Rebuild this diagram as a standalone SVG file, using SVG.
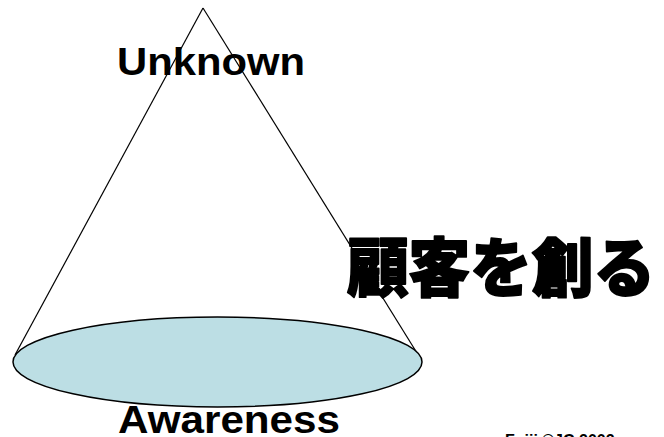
<svg xmlns="http://www.w3.org/2000/svg" width="664" height="437" viewBox="0 0 664 437">
<style>
.lbl{font-family:"Liberation Sans",Arial,sans-serif;font-weight:bold;fill:#000}
.jp{font-family:"Noto Sans CJK JP","Noto Sans CJK SC",sans-serif;font-weight:900;fill:#000;stroke:#000;stroke-width:1.8;stroke-linejoin:round}
.edge{stroke:#000;stroke-width:1.2;fill:none}
</style>
<rect width="664" height="437" fill="#fff"/>
<g id="connectors">
<line class="edge" x1="203" y1="8" x2="15" y2="355"/>
<line class="edge" x1="203" y1="8" x2="417" y2="353"/>
</g>
<g id="base">
<ellipse cx="217.5" cy="362" rx="204.5" ry="45" fill="#BCDEE4" stroke="#000" stroke-width="1.5"/>
</g>
<g id="unknown">
<text class="lbl" x="117" y="75" font-size="39" textLength="188" lengthAdjust="spacingAndGlyphs">Unknown</text>
</g>
<g id="awareness">
<text class="lbl" x="118" y="433" font-size="38" textLength="222" lengthAdjust="spacingAndGlyphs">Awareness</text>
</g>
<g id="title">
<text class="jp" x="347" y="291" font-size="64" textLength="308" lengthAdjust="spacingAndGlyphs">顧客を創る</text>
</g>
<g id="credit">
<text class="lbl" x="505" y="446" font-size="16">Fujii ©JC  2002</text>
</g>
</svg>
